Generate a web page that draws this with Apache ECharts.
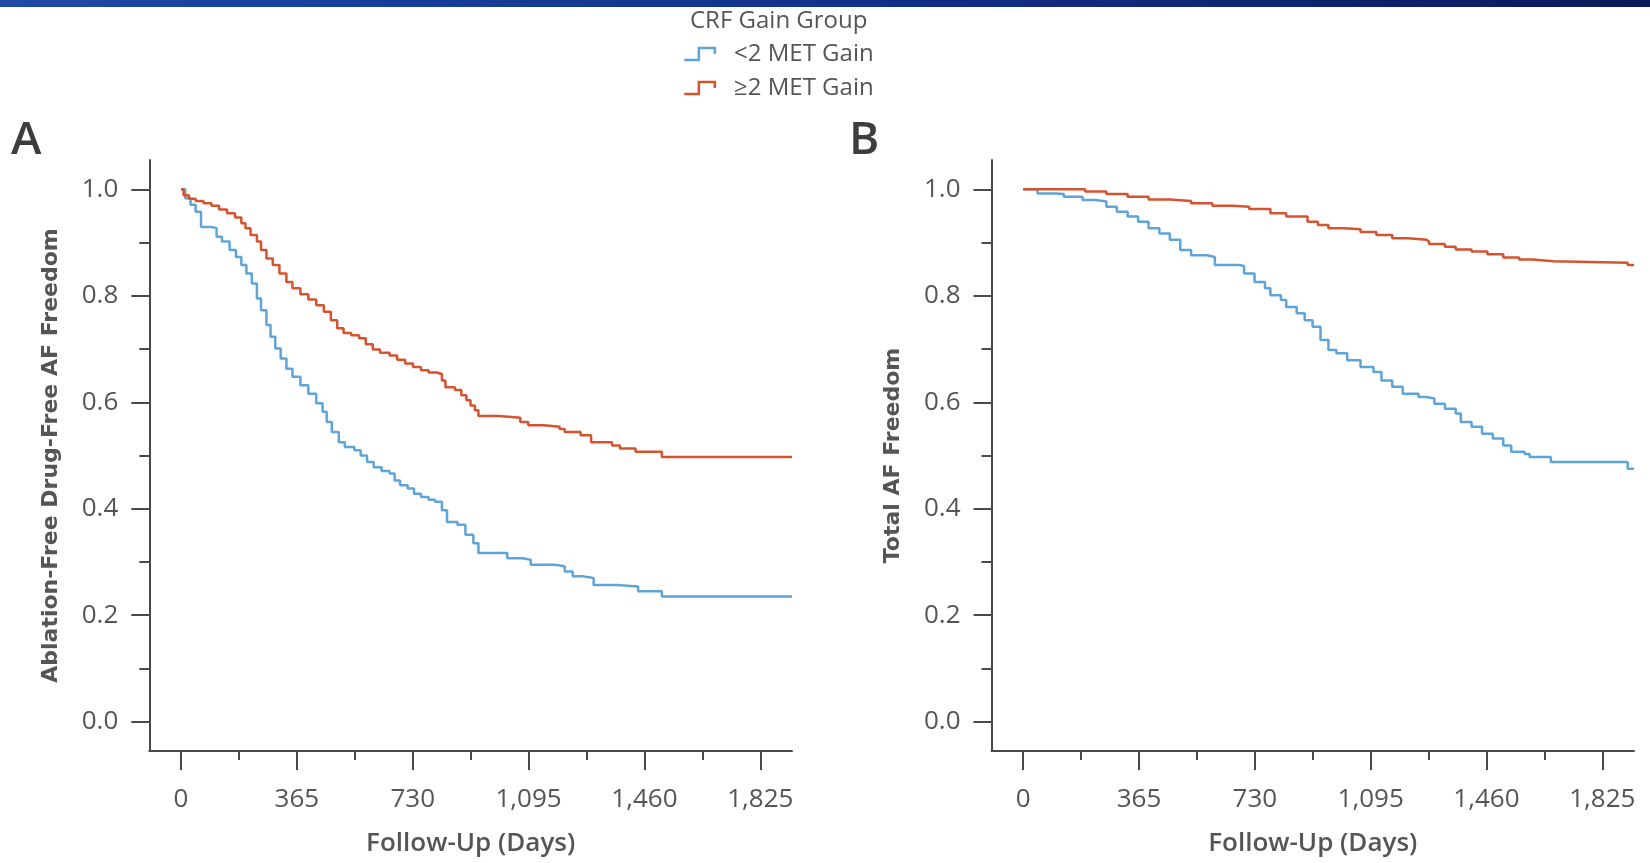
<!DOCTYPE html>
<html>
<head>
<meta charset="utf-8">
<script src="https://cdn.jsdelivr.net/npm/echarts@6/dist/echarts.min.js"></script>
<style>
  html, body { margin: 0; padding: 0; background: #fff; }
  #main { width: 1650px; height: 863px; }
</style>
</head>
<body>
<div id="main"></div>
<script>
// legend / tick values
var groupNames = ['<2 MET Gain', '\u22652 MET Gain'];
var dayTicks = [0, 365, 730, 1095, 1460, 1825];
var dayMinorTicks = [182.5, 547.5, 912.5, 1277.5, 1642.5];
var survTicks = [0, 0.2, 0.4, 0.6, 0.8, 1.0];
var survMinorTicks = [0.1, 0.3, 0.5, 0.7, 0.9];

// A: ablation-free drug-free AF freedom, <2 MET gain
var aLowDays = [0, 13, 30, 46, 63, 96, 112, 129, 153, 173, 190, 206, 223, 239, 252, 269, 282, 297, 314, 332, 351, 376, 401, 426, 446, 459, 475, 497, 516, 546, 566, 586, 607, 632, 657, 673, 690, 714, 734, 756, 780, 800, 822, 838, 871, 896, 921, 937, 1011, 1028, 1077, 1102, 1176, 1209, 1234, 1267, 1300, 1374, 1440, 1515, 1925];
var aLowSurv = [1.0, 0.983, 0.971, 0.958, 0.929, 0.927, 0.911, 0.902, 0.886, 0.873, 0.858, 0.842, 0.823, 0.795, 0.773, 0.745, 0.723, 0.701, 0.682, 0.663, 0.648, 0.632, 0.616, 0.598, 0.582, 0.563, 0.544, 0.525, 0.516, 0.51, 0.5, 0.488, 0.478, 0.471, 0.466, 0.453, 0.444, 0.438, 0.428, 0.422, 0.417, 0.413, 0.397, 0.375, 0.37, 0.351, 0.335, 0.317, 0.317, 0.307, 0.304, 0.295, 0.292, 0.282, 0.273, 0.27, 0.257, 0.254, 0.245, 0.235, 0.234];

// A: >=2 MET gain
var aHighDays = [0, 8, 25, 46, 71, 96, 120, 145, 170, 190, 203, 219, 239, 252, 269, 289, 310, 332, 351, 376, 401, 426, 450, 472, 492, 512, 536, 561, 582, 604, 627, 657, 681, 706, 731, 756, 780, 805, 822, 833, 863, 883, 899, 912, 926, 937, 1003, 1069, 1094, 1143, 1193, 1209, 1259, 1292, 1358, 1383, 1432, 1515, 1925];
var aHighSurv = [1.0, 0.989, 0.982, 0.978, 0.974, 0.969, 0.962, 0.955, 0.947, 0.936, 0.927, 0.914, 0.902, 0.886, 0.87, 0.858, 0.842, 0.826, 0.814, 0.803, 0.793, 0.782, 0.77, 0.754, 0.739, 0.73, 0.726, 0.72, 0.709, 0.699, 0.693, 0.688, 0.68, 0.673, 0.666, 0.66, 0.656, 0.653, 0.641, 0.628, 0.623, 0.613, 0.604, 0.594, 0.585, 0.574, 0.571, 0.563, 0.557, 0.554, 0.55, 0.544, 0.538, 0.525, 0.519, 0.513, 0.507, 0.497, 0.497];

// B: total AF freedom, <2 MET gain
var bLowDays = [0, 45, 103, 128, 187, 229, 262, 295, 329, 362, 395, 429, 462, 495, 529, 579, 604, 679, 696, 729, 762, 779, 812, 829, 862, 887, 912, 937, 962, 987, 1021, 1063, 1104, 1129, 1163, 1196, 1246, 1271, 1296, 1329, 1363, 1379, 1413, 1446, 1480, 1513, 1538, 1580, 1596, 1663, 1905, 1925];
var bLowSurv = [1.0, 0.992, 0.991, 0.986, 0.98, 0.977, 0.967, 0.958, 0.949, 0.939, 0.927, 0.917, 0.905, 0.886, 0.876, 0.873, 0.858, 0.856, 0.842, 0.826, 0.814, 0.801, 0.792, 0.779, 0.767, 0.754, 0.742, 0.717, 0.698, 0.692, 0.679, 0.666, 0.657, 0.641, 0.629, 0.616, 0.61, 0.607, 0.597, 0.588, 0.579, 0.563, 0.554, 0.541, 0.532, 0.519, 0.507, 0.503, 0.497, 0.488, 0.475, 0.475];

// B: >=2 MET gain
var bHighDays = [0, 195, 262, 329, 395, 462, 529, 596, 662, 712, 779, 829, 896, 929, 962, 1012, 1063, 1113, 1163, 1213, 1271, 1279, 1329, 1363, 1413, 1463, 1513, 1563, 1605, 1671, 1905, 1925];
var bHighSurv = [1.0, 0.996, 0.991, 0.986, 0.981, 0.978, 0.974, 0.969, 0.967, 0.963, 0.955, 0.949, 0.939, 0.933, 0.927, 0.925, 0.92, 0.914, 0.908, 0.905, 0.902, 0.897, 0.892, 0.887, 0.883, 0.878, 0.872, 0.868, 0.865, 0.862, 0.858, 0.858];

var BLUE = '#5fa4d8';
var RED = '#d5532f';
var AXIS = '#4a4a4a';
var TEXT = '#555555';
var FONT = '"Open Sans", "Noto Sans", sans-serif';

function pairs(days, surv) {
  var out = [];
  for (var i = 0; i < days.length; i++) out.push([days[i], surv[i]]);
  return out;
}

// main axis (line + long ticks + labels) and an overlay axis carrying the short ticks
function xAxes(gridIndex) {
  var base = { gridIndex: gridIndex, type: 'value', min: -100, max: 1925, position: 'bottom', splitLine: { show: false } };
  return [
    Object.assign({}, base, {
      name: 'Follow-Up (Days)',
      nameLocation: 'middle',
      nameGap: 80,
      nameTextStyle: { fontFamily: FONT, fontSize: 26, fontWeight: 600, color: TEXT },
      axisLine: { show: true, onZero: false, lineStyle: { color: AXIS, width: 2 } },
      axisTick: { show: true, length: 19, customValues: dayTicks, lineStyle: { color: AXIS, width: 2 } },
      axisLabel: {
        show: true, customValues: dayTicks, margin: 36,
        fontFamily: FONT, fontSize: 26, color: TEXT,
        formatter: function (v) { return v.toLocaleString('en-US'); }
      }
    }),
    Object.assign({}, base, {
      axisLine: { show: false, onZero: false },
      axisTick: { show: true, length: 9, customValues: dayMinorTicks, lineStyle: { color: AXIS, width: 2 } },
      axisLabel: { show: false }
    })
  ];
}

function yAxes(gridIndex, title) {
  var base = { gridIndex: gridIndex, type: 'value', min: -0.055, max: 1.055, position: 'left', splitLine: { show: false } };
  return [
    Object.assign({}, base, {
      name: title,
      nameLocation: 'middle',
      nameGap: 87,
      nameTextStyle: { fontFamily: '"DejaVu Sans", sans-serif', fontSize: 22, fontWeight: 'bold', color: TEXT },
      axisLine: { show: true, onZero: false, lineStyle: { color: AXIS, width: 2 } },
      axisTick: { show: true, length: 18, customValues: survTicks, lineStyle: { color: AXIS, width: 2 } },
      axisLabel: {
        show: true, customValues: survTicks, margin: 31,
        fontFamily: FONT, fontSize: 26, color: TEXT,
        formatter: function (v) { return v.toFixed(1); }
      }
    }),
    Object.assign({}, base, {
      axisLine: { show: false, onZero: false },
      axisTick: { show: true, length: 10, customValues: survMinorTicks, lineStyle: { color: AXIS, width: 2 } },
      axisLabel: { show: false }
    })
  ];
}

function curve(name, color, grid, data) {
  return {
    name: name, type: 'line', step: 'end',
    xAxisIndex: grid * 2, yAxisIndex: grid * 2,
    showSymbol: false, symbol: 'none',
    lineStyle: { color: color, width: 2.5 },
    itemStyle: { color: color },
    data: data
  };
}

function legendItem(name, color) {
  return {
    name: name,
    icon: 'path://M0,12 L14.6,12 L14.6,0 L30.6,0 L30.6,6',
    itemStyle: { color: 'rgba(0,0,0,0)', borderColor: color, borderWidth: 2.5 }
  };
}

var chart = echarts.init(document.getElementById('main'), null, { renderer: 'canvas' });

var option = {
  animation: false,
  backgroundColor: '#ffffff',
  title: {
    text: 'CRF Gain Group',
    left: 690, top: 9, padding: 0,
    textStyle: { fontFamily: FONT, fontSize: 24, fontWeight: 'normal', color: TEXT }
  },
  legend: {
    data: [legendItem(groupNames[0], BLUE), legendItem(groupNames[1], RED)],
    orient: 'vertical',
    left: 683, top: 40, padding: 0,
    itemWidth: 31, itemHeight: 12, itemGap: 6,
    selectedMode: false,
    textStyle: { fontFamily: FONT, fontSize: 24, lineHeight: 28, color: TEXT, padding: [0, 0, 0, 14] }
  },
  grid: [
    { left: 149.3, top: 160, width: 642.7, height: 591, outerBoundsMode: 'none' },
    { left: 991.5, top: 160, width: 642.5, height: 591, outerBoundsMode: 'none' }
  ],
  xAxis: xAxes(0).concat(xAxes(1)),
  yAxis: yAxes(0, 'Ablation-Free Drug-Free AF Freedom').concat(yAxes(1, 'Total AF Freedom')),
  series: [
    curve(groupNames[0], BLUE, 0, pairs(aLowDays, aLowSurv)),
    curve(groupNames[1], RED, 0, pairs(aHighDays, aHighSurv)),
    curve(groupNames[0], BLUE, 1, pairs(bLowDays, bLowSurv)),
    curve(groupNames[1], RED, 1, pairs(bHighDays, bHighSurv))
  ],
  graphic: [
    {
      type: 'rect', left: 0, top: 0, silent: true,
      shape: { width: 1650, height: 7 },
      style: {
        fill: new echarts.graphic.LinearGradient(0, 0, 1, 0, [
          { offset: 0, color: '#1f4aa5' },
          { offset: 0.5, color: '#12318c' },
          { offset: 1, color: '#0b1a5a' }
        ])
      }
    },
    { type: 'text', left: 11, top: 118, style: { text: 'A', fontFamily: FONT, fontSize: 46, fontWeight: 600, fill: '#3d3d3d' } },
    { type: 'text', left: 849, top: 118, style: { text: 'B', fontFamily: FONT, fontSize: 46, fontWeight: 600, fill: '#3d3d3d' } }
  ]
};

chart.setOption(option);
</script>
</body>
</html>
